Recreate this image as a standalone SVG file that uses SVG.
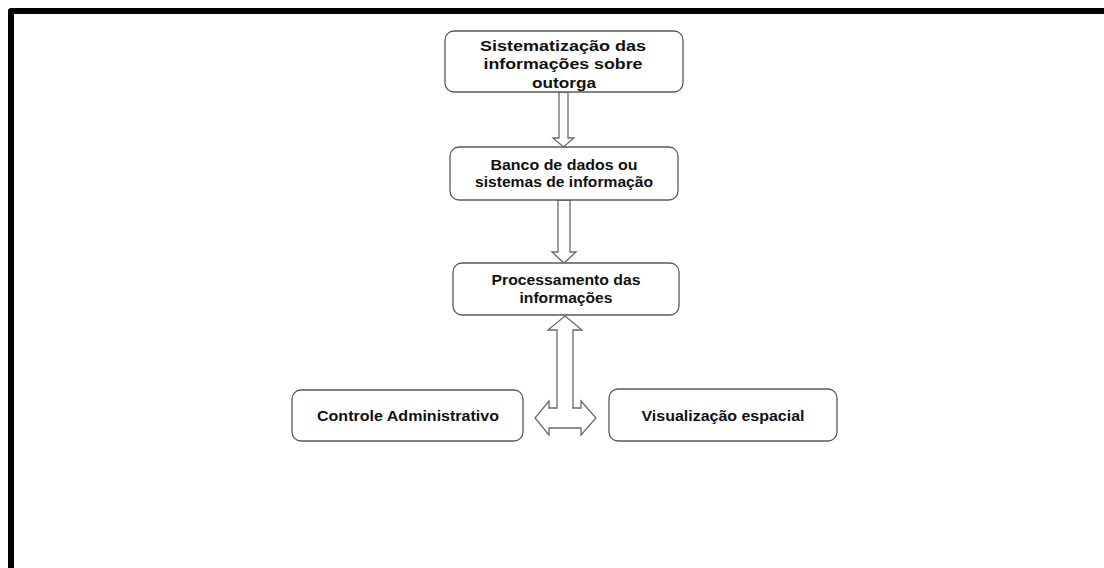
<svg xmlns="http://www.w3.org/2000/svg" width="1104" height="568" viewBox="0 0 1104 568">
  <style>
    .box { fill: #ffffff; stroke: #5a5a5a; stroke-width: 1.3; }
    .lbl { font-family: "Liberation Sans", Arial, sans-serif; font-weight: bold; font-size: 15.5px; fill: #111111; text-anchor: middle; }
    .arrow { fill: #ffffff; stroke: #6a6a6a; stroke-width: 1.3; stroke-linejoin: miter; }
    .frame { fill: none; stroke: #000000; stroke-width: 6; stroke-linejoin: round; }
  </style>

  <rect x="0" y="0" width="1104" height="568" fill="#ffffff"/>

  <!-- page frame (top and left edges) -->
  <path class="frame" d="M11 568 V11 H1104"/>

  <!-- connectors -->
  <g id="connectors">
    <polygon class="arrow" points="559,92 568,92 568,138 574,138 563.5,147 553,138 559,138"/>
    <polygon class="arrow" points="558,200 570,200 570,252 576,252 564,263 552,252 558,252"/>
    <polygon class="arrow" points="565,316 582,330 573,330 573,408 581,408 581,401 596,418 581,435 581,428 549,428 549,435 535,418 549,401 549,408 557,408 557,330 548,330"/>
  </g>

  <g id="node-sistematizacao">
    <rect class="box" x="445" y="31" width="238" height="61" rx="9"/>
    <text class="lbl" x="563" y="51" textLength="166" lengthAdjust="spacingAndGlyphs">Sistematização das</text>
    <text class="lbl" x="563" y="69" textLength="159" lengthAdjust="spacingAndGlyphs">informações sobre</text>
    <text class="lbl" x="564" y="88" textLength="64" lengthAdjust="spacingAndGlyphs">outorga</text>
  </g>

  <g id="node-banco">
    <rect class="box" x="450" y="147" width="228" height="53" rx="9"/>
    <text class="lbl" x="564" y="170" textLength="147" lengthAdjust="spacingAndGlyphs">Banco de dados ou</text>
    <text class="lbl" x="564" y="187" textLength="178" lengthAdjust="spacingAndGlyphs">sistemas de informação</text>
  </g>

  <g id="node-processamento">
    <rect class="box" x="453" y="263" width="226" height="52" rx="9"/>
    <text class="lbl" x="566" y="285" textLength="149" lengthAdjust="spacingAndGlyphs">Processamento das</text>
    <text class="lbl" x="566" y="303" textLength="93" lengthAdjust="spacingAndGlyphs">informações</text>
  </g>

  <g id="node-controle">
    <rect class="box" x="292" y="390" width="231" height="51" rx="9"/>
    <text class="lbl" x="408" y="421" textLength="182" lengthAdjust="spacingAndGlyphs">Controle Administrativo</text>
  </g>

  <g id="node-visualizacao">
    <rect class="box" x="609" y="389" width="228" height="52" rx="9"/>
    <text class="lbl" x="723" y="421" textLength="163" lengthAdjust="spacingAndGlyphs">Visualização espacial</text>
  </g>
</svg>
